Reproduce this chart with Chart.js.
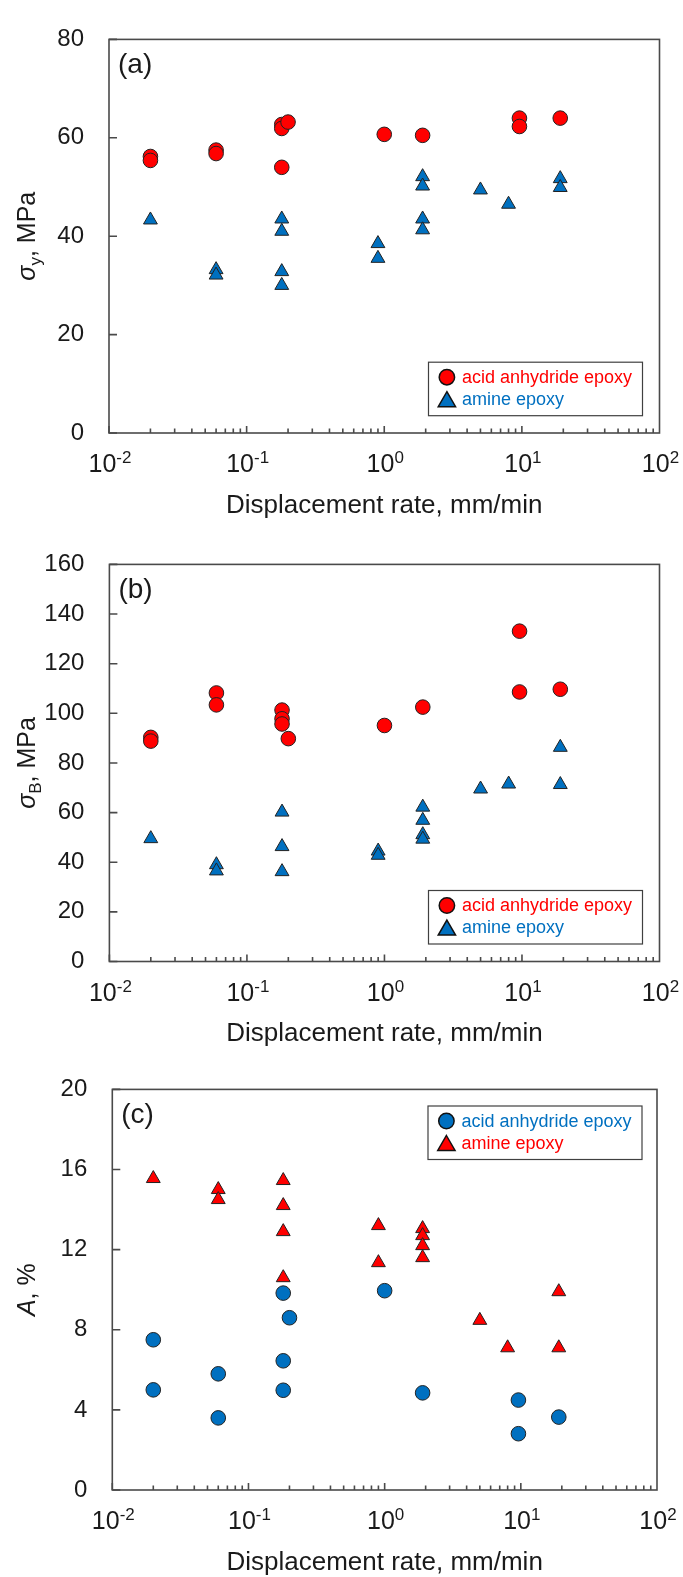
<!DOCTYPE html>
<html>
<head>
<meta charset="utf-8">
<title>Displacement rate dependence</title>
<script src="https://cdn.jsdelivr.net/npm/chart.js@4.4.1/dist/chart.umd.min.js"></script>
<style>
  body { margin: 0; background: #fff; width: 683px; height: 1577px; position: relative; overflow: hidden; }
  canvas { position: absolute; left: 0; }
</style>
</head>
<body>
<canvas id="panelA" width="683" height="525" style="top:0"></canvas>
<canvas id="panelB" width="683" height="525" style="top:525px"></canvas>
<canvas id="panelC" width="683" height="527" style="top:1050px"></canvas>

<script>
// series names, axis ticks
const seriesNames = ['acid anhydride epoxy', 'amine epoxy'];
const xExponents = [-2, -1, 0, 1, 2];
const xTitle = 'Displacement rate, mm/min';
const yTicksA = [0, 20, 40, 60, 80];
const yTicksB = [0, 20, 40, 60, 80, 100, 120, 140, 160];
const yTicksC = [0, 4, 8, 12, 16, 20];

// (a) yield stress, MPa
const rateA_anhydride = [0.02, 0.02, 0.06, 0.06, 0.18, 0.18, 0.18, 0.2, 1, 1.9, 9.6, 9.6, 19];
const sigmaY_anhydride = [56.2, 55.4, 57.5, 56.8, 62.7, 61.9, 54.0, 63.2, 60.7, 60.5, 64.0, 62.3, 64.0];
const rateA_amine = [0.02, 0.06, 0.06, 0.18, 0.18, 0.18, 0.18, 0.9, 0.9, 1.9, 1.9, 1.9, 1.9, 5, 8, 19, 19];
const sigmaY_amine = [43.3, 33.2, 32.1, 43.5, 41.0, 32.8, 30.0, 38.5, 35.5, 52.1, 50.2, 43.5, 41.3, 49.4, 46.5, 51.7, 49.9];

// (b) breaking stress, MPa
const rateB_anhydride = [0.02, 0.02, 0.06, 0.06, 0.18, 0.18, 0.18, 0.2, 1, 1.9, 9.6, 9.6, 19];
const sigmaB_anhydride = [90.3, 88.8, 108.2, 103.4, 101.3, 97.8, 95.7, 89.8, 95.1, 102.5, 133.1, 108.6, 109.7];
const rateB_amine = [0.02, 0.06, 0.06, 0.18, 0.18, 0.18, 0.9, 0.9, 1.9, 1.9, 1.9, 1.9, 5, 8, 19, 19];
const sigmaB_amine = [49.5, 39.0, 36.5, 60.2, 46.3, 36.2, 44.5, 42.8, 62.2, 56.9, 51.1, 49.3, 69.5, 71.5, 86.3, 71.3];

// (c) elongation, %
const rateC_anhydride = [0.02, 0.02, 0.06, 0.06, 0.18, 0.18, 0.18, 0.2, 1, 1.9, 9.6, 9.6, 19];
const elong_anhydride = [7.5, 5.0, 5.8, 3.6, 9.83, 6.45, 4.98, 8.6, 9.95, 4.85, 4.49, 2.81, 3.64];
const rateC_amine = [0.02, 0.06, 0.06, 0.18, 0.18, 0.18, 0.18, 0.9, 0.9, 1.9, 1.9, 1.9, 1.9, 5, 8, 19, 19];
const elong_amine = [15.55, 15.0, 14.5, 15.45, 14.2, 12.9, 10.6, 13.2, 11.35, 13.05, 12.7, 12.2, 11.6, 8.47, 7.1, 9.9, 7.1];

const RED = '#FF0000';
const BLUE = '#0070C0';
const FONT = "'Liberation Sans', Arial, sans-serif";
const INK = '#1a1a1a';

function toPoints(xs, ys) {
  return xs.map((x, i) => ({ x: x, y: ys[i] }));
}

function drawMarker(ctx, style, x, y, r, fill) {
  ctx.beginPath();
  if (style === 'triangle') {
    ctx.moveTo(x, y - r);
    ctx.lineTo(x + 0.866 * r, y + 0.5 * r);
    ctx.lineTo(x - 0.866 * r, y + 0.5 * r);
    ctx.closePath();
  } else {
    ctx.arc(x, y, r, 0, Math.PI * 2);
  }
  ctx.fillStyle = fill;
  ctx.fill();
  ctx.strokeStyle = '#111';
  ctx.lineWidth = 1.5;
  ctx.stroke();
}

// frame, inward ticks, x labels with exponents, titles and boxed legend
const panelPlugin = {
  id: 'panel',
  afterDraw(chart, args, o) {
    const { ctx, chartArea: a, scales: { x, y } } = chart;
    ctx.save();

    ctx.strokeStyle = '#4a4a4a';
    ctx.lineWidth = 1.6;
    ctx.strokeRect(a.left, a.top, a.right - a.left, a.bottom - a.top);

    ctx.beginPath();
    y.ticks.forEach(t => {
      const py = y.getPixelForValue(t.value);
      ctx.moveTo(a.left, py);
      ctx.lineTo(a.left + 8, py);
    });
    xExponents.slice(0, -1).forEach(e => {
      for (let k = 1; k < 10; k++) {
        const px = x.getPixelForValue(k * Math.pow(10, e));
        ctx.moveTo(px, a.bottom);
        ctx.lineTo(px, a.bottom - (k === 1 ? 7 : 4.5));
      }
    });
    ctx.stroke();

    // 10^n tick labels
    ctx.fillStyle = INK;
    ctx.textAlign = 'left';
    ctx.textBaseline = 'alphabetic';
    xExponents.forEach(e => {
      const px = x.getPixelForValue(Math.pow(10, e));
      ctx.font = '25px ' + FONT;
      const wb = ctx.measureText('10').width;
      ctx.font = '17px ' + FONT;
      const we = ctx.measureText(String(e)).width;
      const x0 = px - (wb + we) / 2 + 1;
      const base = a.bottom + 39;
      ctx.font = '25px ' + FONT;
      ctx.fillText('10', x0, base);
      ctx.font = '17px ' + FONT;
      ctx.fillText(String(e), x0 + wb, base - 9);
    });

    // x title
    ctx.font = '26px ' + FONT;
    ctx.textAlign = 'center';
    ctx.fillText(xTitle, (a.left + a.right) / 2, a.bottom + 79.5);

    // panel tag
    ctx.font = '28px ' + FONT;
    ctx.textAlign = 'left';
    ctx.fillText(o.tag, a.left + 9, a.top + 33.5);

    // rotated y title built from parts (italic symbol, subscript)
    ctx.save();
    ctx.translate(35, (a.top + a.bottom) / 2);
    ctx.rotate(-Math.PI / 2);
    let total = 0;
    o.yTitle.forEach(p => {
      ctx.font = (p.italic ? 'italic ' : '') + p.size + 'px ' + FONT;
      p.w = ctx.measureText(p.text).width;
      total += p.w;
    });
    let cx = -total / 2;
    o.yTitle.forEach(p => {
      ctx.font = (p.italic ? 'italic ' : '') + p.size + 'px ' + FONT;
      ctx.fillText(p.text, cx, p.dy || 0);
      cx += p.w;
    });
    ctx.restore();

    // legend box
    const bw = 214, bh = 53.5;
    const bx = a.right - o.legend.right - bw;
    const by = o.legend.top != null ? a.top + o.legend.top : a.bottom - o.legend.bottom - bh;
    ctx.fillStyle = '#fff';
    ctx.fillRect(bx, by, bw, bh);
    ctx.strokeStyle = '#404040';
    ctx.lineWidth = 1.2;
    ctx.strokeRect(bx, by, bw, bh);
    chart.data.datasets.forEach((ds, i) => {
      const tri = ds.pointStyle === 'triangle';
      drawMarker(ctx, ds.pointStyle, bx + 18.4, by + (i === 0 ? 15 : 39.5), tri ? 10 : 7.7, ds.backgroundColor);
      ctx.font = '18px ' + FONT;
      ctx.fillStyle = ds.backgroundColor;
      ctx.textBaseline = 'middle';
      ctx.textAlign = 'left';
      ctx.fillText(ds.label, bx + 33.4, by + (i === 0 ? 16 : 38));
      ctx.textBaseline = 'alphabetic';
    });

    ctx.restore();
  }
};

function buildPanel(id, p) {
  const canvas = document.getElementById(id);
  const W = canvas.width, H = canvas.height;
  const a = p.area;
  const series = (label, xs, ys, style, color) => ({
    label: label,
    data: toPoints(xs, ys),
    pointStyle: style,
    pointRadius: style === 'triangle' ? 8 : 7.3,
    backgroundColor: color,
    borderColor: '#222',
    borderWidth: 1
  });
  return new Chart(canvas, {
    type: 'scatter',
    data: {
      datasets: [
        series(seriesNames[0], p.x1, p.y1, 'circle', p.c1),
        series(seriesNames[1], p.x2, p.y2, 'triangle', p.c2)
      ]
    },
    options: {
      responsive: false,
      animation: false,
      events: [],
      layout: { padding: { top: a.top, right: W - a.right, left: 0, bottom: 0 } },
      plugins: {
        legend: { display: false },
        tooltip: { enabled: false },
        panel: { tag: p.tag, yTitle: p.yTitle, legend: p.legend }
      },
      scales: {
        x: {
          type: 'logarithmic',
          min: Math.pow(10, xExponents[0]),
          max: Math.pow(10, xExponents[xExponents.length - 1]),
          ticks: { display: false },
          grid: { display: false, drawTicks: false },
          border: { display: false },
          afterFit: s => { s.height = H - a.bottom; }
        },
        y: {
          min: p.yTicks[0],
          max: p.yTicks[p.yTicks.length - 1],
          ticks: {
            stepSize: p.yTicks[1] - p.yTicks[0],
            color: INK,
            padding: 25,
            font: { family: FONT, size: 24 }
          },
          grid: { display: false, drawTicks: false },
          border: { display: false },
          afterFit: s => { s.width = a.left; }
        }
      }
    },
    plugins: [panelPlugin]
  });
}

buildPanel('panelA', {
  area: { left: 109, right: 659.5, top: 19, bottom: 433 },
  x1: rateA_anhydride, y1: sigmaY_anhydride, c1: RED,
  x2: rateA_amine, y2: sigmaY_amine, c2: BLUE,
  yTicks: yTicksA,
  tag: '(a)',
  yTitle: [{ text: 'σ', size: 25, italic: true }, { text: 'y', size: 17, dy: 6 }, { text: ', MPa', size: 25 }],
  legend: { right: 17, bottom: 17.3 }
});

buildPanel('panelB', {
  area: { left: 109.4, right: 659.5, top: 21.7, bottom: 436.5 },
  x1: rateB_anhydride, y1: sigmaB_anhydride, c1: RED,
  x2: rateB_amine, y2: sigmaB_amine, c2: BLUE,
  yTicks: yTicksB,
  tag: '(b)',
  yTitle: [{ text: 'σ', size: 25, italic: true }, { text: 'B', size: 17, dy: 6 }, { text: ', MPa', size: 25 }],
  legend: { right: 17, bottom: 17.5 }
});

buildPanel('panelC', {
  area: { left: 112.3, right: 657, top: 31.6, bottom: 440 },
  x1: rateC_anhydride, y1: elong_anhydride, c1: BLUE,
  x2: rateC_amine, y2: elong_amine, c2: RED,
  yTicks: yTicksC,
  tag: '(c)',
  yTitle: [{ text: 'A', size: 25, italic: true }, { text: ', %', size: 25 }],
  legend: { right: 15, top: 16.6 }
});
</script>
</body>
</html>
